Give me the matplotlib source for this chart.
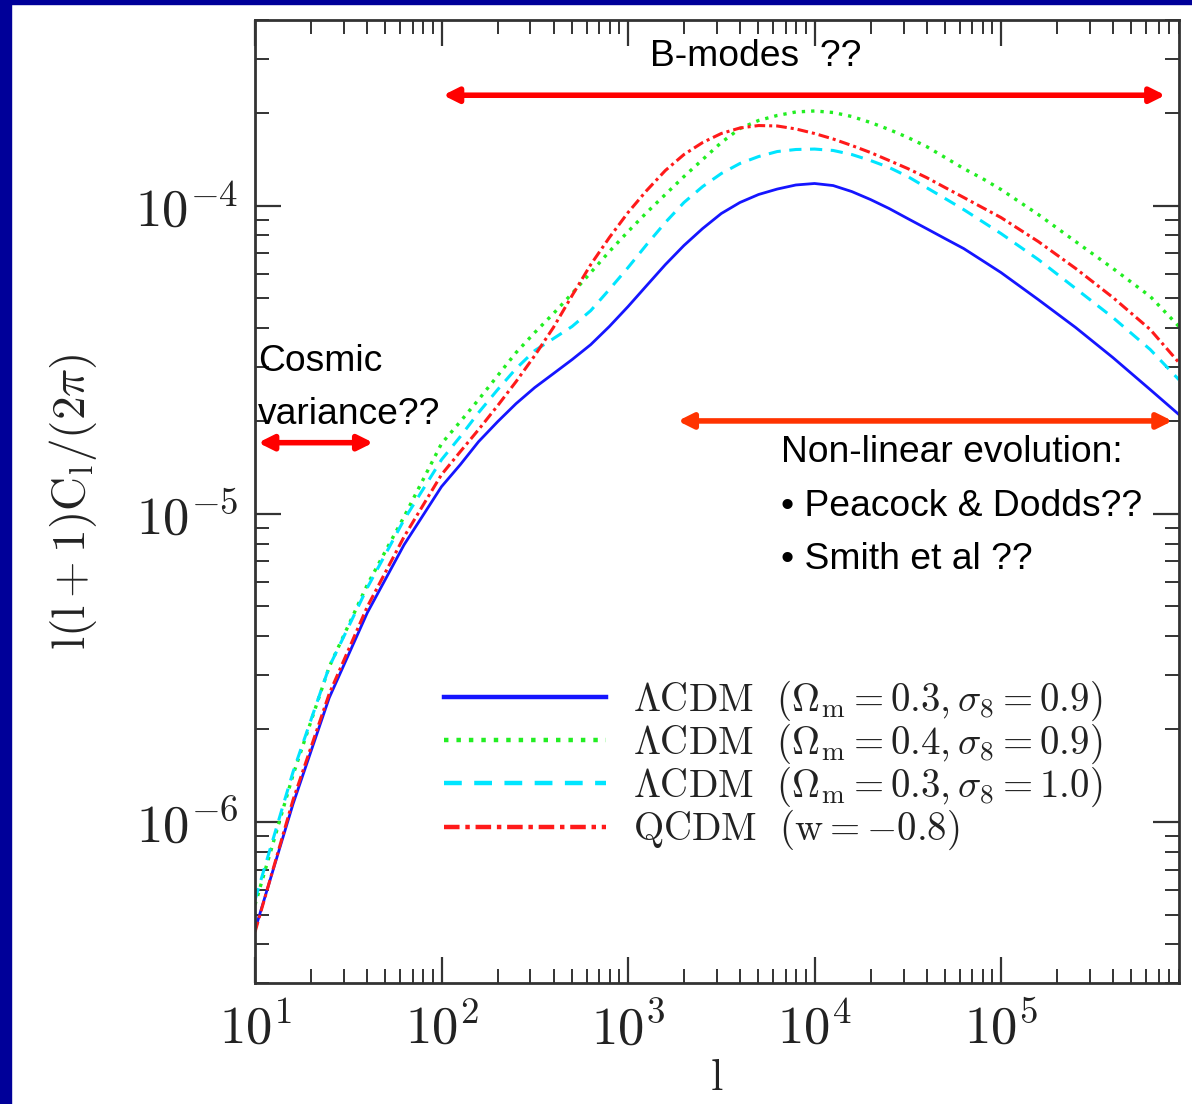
import math
import matplotlib
matplotlib.use('Agg')
import matplotlib.pyplot as plt
from matplotlib.patches import Rectangle
from matplotlib.ticker import LogLocator, FuncFormatter, NullFormatter

plt.rcParams['mathtext.fontset'] = 'cm'

# multipole grid
ell = [10, 16, 25, 40, 63,
       100, 126, 158, 200, 251, 316, 398, 501, 631, 794,
       1000, 1259, 1585, 1995, 2512, 3162, 3981, 5012, 6310, 7943,
       10000, 12589, 15849, 19953, 25119, 31623, 39811, 50119, 63096, 79433,
       100000, 158489, 251189, 398107, 630957, 900000]

# l(l+1)C_l/(2pi) for each model
cl_lcdm_03_09 = [4.46e-7, 1.144e-6, 2.527e-6, 4.77e-6, 7.93e-6,
                 1.224e-5, 1.442e-5, 1.713e-5, 1.989e-5, 2.276e-5, 2.566e-5, 2.848e-5,
                 3.162e-5, 3.537e-5, 4.05e-5,
                 4.70e-5, 5.50e-5, 6.43e-5, 7.42e-5, 8.42e-5, 9.42e-5, 1.023e-4,
                 1.086e-4, 1.131e-4, 1.166e-4,
                 1.179e-4, 1.161e-4, 1.110e-4, 1.046e-4, 9.78e-5, 9.07e-5, 8.42e-5,
                 7.81e-5, 7.25e-5, 6.63e-5,
                 6.06e-5, 4.95e-5, 4.02e-5, 3.21e-5, 2.527e-5, 2.097e-5]
cl_lcdm_04_09 = [5.38e-7, 1.421e-6, 3.185e-6, 5.88e-6, 9.78e-6,
                 1.688e-5, 1.989e-5, 2.345e-5, 2.805e-5, 3.332e-5, 3.87e-5, 4.46e-5,
                 5.18e-5, 6.06e-5, 7.09e-5,
                 8.23e-5, 9.49e-5, 1.086e-4, 1.242e-4, 1.410e-4, 1.601e-4, 1.778e-4,
                 1.888e-4, 1.960e-4, 2.012e-4,
                 2.027e-4, 2.004e-4, 1.945e-4, 1.860e-4, 1.765e-4, 1.663e-4, 1.555e-4,
                 1.432e-4, 1.318e-4, 1.224e-4,
                 1.127e-4, 9.35e-5, 7.64e-5, 6.25e-5, 5.07e-5, 4.05e-5]
cl_lcdm_03_10 = [5.58e-7, 1.453e-6, 3.185e-6, 5.75e-6, 9.56e-6,
                 1.497e-5, 1.778e-5, 2.128e-5, 2.527e-5, 2.957e-5, 3.382e-5, 3.70e-5,
                 4.05e-5, 4.56e-5, 5.34e-5,
                 6.29e-5, 7.47e-5, 8.81e-5, 1.023e-4, 1.152e-4, 1.270e-4, 1.369e-4,
                 1.442e-4, 1.497e-4, 1.520e-4,
                 1.525e-4, 1.509e-4, 1.464e-4, 1.400e-4, 1.329e-4, 1.242e-4, 1.144e-4,
                 1.054e-4, 9.70e-5, 8.87e-5,
                 8.11e-5, 6.68e-5, 5.38e-5, 4.33e-5, 3.41e-5, 2.72e-5]
cl_qcdm = [4.39e-7, 1.179e-6, 2.604e-6, 4.99e-6, 8.42e-6,
           1.339e-5, 1.589e-5, 1.874e-5, 2.242e-5, 2.683e-5, 3.258e-5, 4.02e-5,
           5.10e-5, 6.43e-5, 7.87e-5,
           9.49e-5, 1.119e-4, 1.299e-4, 1.464e-4, 1.601e-4, 1.713e-4, 1.785e-4,
           1.818e-4, 1.812e-4, 1.772e-4,
           1.713e-4, 1.644e-4, 1.566e-4, 1.486e-4, 1.400e-4, 1.318e-4, 1.233e-4,
           1.144e-4, 1.062e-4, 9.85e-5,
           9.14e-5, 7.64e-5, 6.25e-5, 5.03e-5, 3.96e-5, 3.09e-5]

labels = [r'$\Lambda\mathrm{CDM}\ \ (\Omega_\mathrm{m}=0.3,\sigma_8=0.9)$',
          r'$\Lambda\mathrm{CDM}\ \ (\Omega_\mathrm{m}=0.4,\sigma_8=0.9)$',
          r'$\Lambda\mathrm{CDM}\ \ (\Omega_\mathrm{m}=0.3,\sigma_8=1.0)$',
          r'$\mathrm{QCDM}\ \ (\mathrm{w}={-}0.8)$']

fig = plt.figure(figsize=(11.92, 11.04), dpi=100)
navy = '#000099'
fig.patches.append(Rectangle((0, 0), 11 / 1192, 1, transform=fig.transFigure,
                             color=navy, zorder=0))
fig.patches.append(Rectangle((0, 1 - 4 / 1104), 1, 4 / 1104, transform=fig.transFigure,
                             color=navy, zorder=0))

ax = fig.add_axes([255 / 1192, 121 / 1104, 924 / 1192, 963 / 1104])

ax.plot(ell, cl_lcdm_03_09, color='#1515ff', lw=2.0, label=labels[0])
ax.plot(ell, cl_lcdm_04_09, color='#22ee22', lw=2.4, ls=(0, (1, 1.8)), label=labels[1])
ax.plot(ell, cl_lcdm_03_10, color='#00e5ff', lw=2.2, ls=(0, (4, 2.8)), label=labels[2])
ax.plot(ell, cl_qcdm, color='#ff1a1a', lw=2.2, ls=(0, (3.5, 1.3, 1, 1.3)), label=labels[3])

ax.set_xscale('log')
ax.set_yscale('log')
ax.set_xlim(10, 9e5)
ax.set_ylim(3e-7, 4e-4)

fmt = FuncFormatter(lambda v, p: r'$10^{%d}$' % round(math.log10(v)))
ax.xaxis.set_major_locator(LogLocator(base=10, numticks=20))
ax.yaxis.set_major_locator(LogLocator(base=10, numticks=20))
ax.xaxis.set_minor_locator(LogLocator(base=10, subs=range(2, 10), numticks=20))
ax.yaxis.set_minor_locator(LogLocator(base=10, subs=range(2, 10), numticks=20))
ax.xaxis.set_major_formatter(fmt)
ax.yaxis.set_major_formatter(fmt)
ax.xaxis.set_minor_formatter(NullFormatter())
ax.yaxis.set_minor_formatter(NullFormatter())

ax.tick_params(which='both', direction='in', top=True, right=True,
               color='#333333', labelcolor='#222222', labelsize=38)
ax.tick_params(which='major', length=19, width=1.6)
ax.tick_params(axis='x', which='major', pad=14)
ax.tick_params(axis='y', which='major', pad=12)
ax.tick_params(which='minor', length=10, width=1.4)
for s in ax.spines.values():
    s.set_color('#333333')
    s.set_linewidth(2)

ax.set_xlabel(r'$\mathrm{l}$', fontsize=32, color='#222222', labelpad=1)
ax.set_ylabel(r'$\mathrm{l(l+1)C_l/(2}\pi\mathrm{)}$', fontsize=34,
              color='#222222', labelpad=26)

leg = ax.legend(loc='upper left', bbox_to_anchor=(0.205, 0.316), frameon=False,
                fontsize=28, handlelength=4.15, handletextpad=0.7,
                labelspacing=-0.03, borderpad=0, borderaxespad=0)
for t in leg.get_texts():
    t.set_color('#222222')
for ln in leg.get_lines():
    ln.set_linewidth(3.2)

# annotations
sans = 'Liberation Sans'
arrow_red = dict(arrowstyle='<|-|>', color='#ff0000', lw=4, mutation_scale=22,
                 shrinkA=0, shrinkB=0)
ax.annotate('', xy=(7.6e5, 2.28e-4), xytext=(102, 2.28e-4), arrowprops=arrow_red)
ax.annotate('', xy=(43, 1.70e-5), xytext=(10.4, 1.70e-5), arrowprops=arrow_red)
arrow_or = dict(arrow_red, color='#ff3300')
ax.annotate('', xy=(8.3e5, 2.0e-5), xytext=(1850, 2.0e-5), arrowprops=arrow_or)

fs = 26.8
ax.text(0.4275, 0.9616, 'B-modes  ??', transform=ax.transAxes, fontsize=fs,
        family=sans, va='center', ha='left')
ax.text(0.003, 0.645, 'Cosmic', transform=ax.transAxes, fontsize=fs,
        family=sans, va='center', ha='left')
ax.text(0.003, 0.590, 'variance??', transform=ax.transAxes, fontsize=fs,
        family=sans, va='center', ha='left')
ax.text(0.569, 0.5504, 'Non-linear evolution:', transform=ax.transAxes, fontsize=fs,
        family=sans, va='center', ha='left')
ax.text(0.569, 0.4943, '\u2022 Peacock & Dodds??', transform=ax.transAxes, fontsize=fs,
        family=sans, va='center', ha='left')
ax.text(0.569, 0.4393, '\u2022 Smith et al ??', transform=ax.transAxes, fontsize=fs,
        family=sans, va='center', ha='left')

fig.savefig('out.png', dpi=100, facecolor='white')
